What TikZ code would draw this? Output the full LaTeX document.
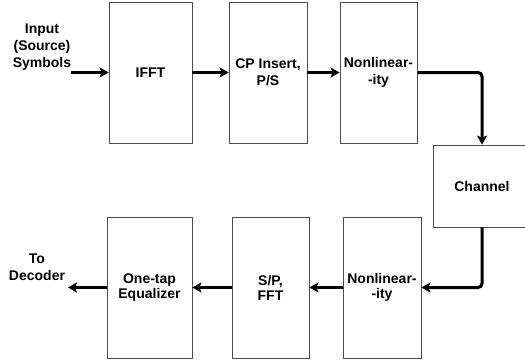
\documentclass[tikz,border=0pt]{standalone}
\usepackage{fontspec}
\setmainfont{Liberation Sans}
\usetikzlibrary{arrows.meta}

\begin{document}
\begin{tikzpicture}[x=1pt, y=-1pt,
  Block/.style={draw=black!70, line width=0.8pt, minimum height=141pt, inner sep=0pt,
    align=center, font=\fontsize{14}{15}\selectfont\bfseries},
  Oben/.style={Block, font=\fontsize{14}{17}\selectfont\bfseries},
  Beschr/.style={align=center, font=\fontsize{14}{17}\selectfont\bfseries, inner sep=0pt},
  Pfeil/.style={line width=3pt, arrows = -{Stealth[length=9pt, width=10pt, inset=2pt]}}]
\useasboundingbox (0,0) rectangle (525,362);
% upper row
\node[Oben, minimum width=83pt] (ifft) at (150.5,72.5) {IFFT};
\node[Oben, minimum width=78pt] (cp) at (268,72.5) {CP Insert,\\P/S};
\node[Oben, minimum width=77pt] (nl1) at (378.5,72.5) {Nonlinear-\\-ity};
% channel
\node[Block, minimum width=98pt, minimum height=82pt] (ch) at (482,186) {Channel};
% lower row
\node[Block, minimum width=78pt] (nl2) at (382,287.5) {Nonlinear-\\-ity};
\node[Block, minimum width=77pt] (sp) at (270.5,287.5) {S/P,\\FFT};
\node[Block, minimum width=85pt] (eq) at (149.5,287.5) {One-tap\\Equalizer};
% in / out
\node[Beschr] (src) at (42,47) {Input\\(Source)\\Symbols};
\coordinate (srcend) at (71,72.5);
\node[Beschr] (dec) at (37,267) {To\\Decoder};
\coordinate (decend) at (68,287.5);
\draw[Pfeil] (srcend) -- (ifft);
\draw[Pfeil] (ifft) -- (cp);
\draw[Pfeil] (cp) -- (nl1);
\draw[Pfeil, rounded corners=4pt] (nl1.east) -| (ch.north);
\draw[Pfeil, rounded corners=4pt] (ch.south) |- (nl2.east);
\draw[Pfeil] (nl2) -- (sp);
\draw[Pfeil] (sp) -- (eq);
\draw[Pfeil] (eq) -- (decend);
\end{tikzpicture}
\end{document}
